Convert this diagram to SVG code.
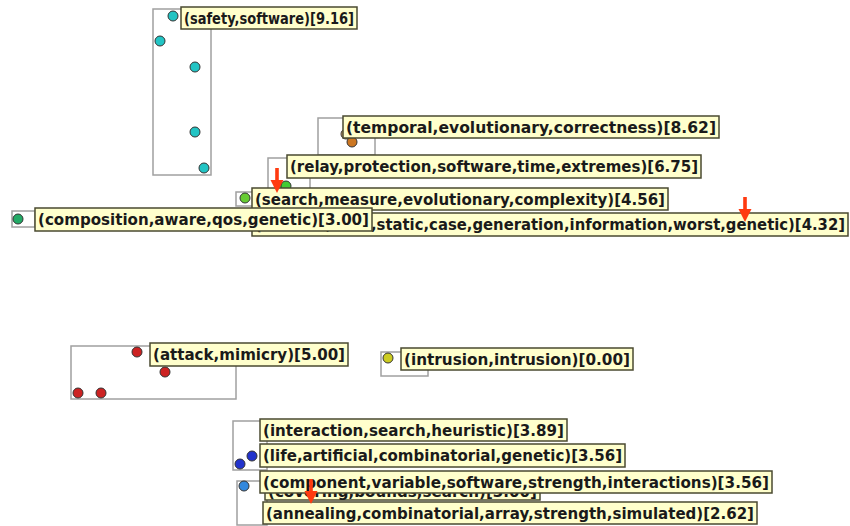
<svg xmlns="http://www.w3.org/2000/svg" width="850" height="526" viewBox="0 0 850 526">
<defs>
<style>
.frame{fill:none;stroke:#a0a0a0;stroke-width:1.5}
.dot{stroke:#333;stroke-width:1}
.lb{fill:#ffffcc;stroke:#4a4a30;stroke-width:1.5}
.tx{font-family:"DejaVu Sans",sans-serif;font-weight:bold;font-size:16.5px;fill:#1a1a1a}
.arr{fill:#ff3a10}
</style>
<g id="arrowShape"><rect x="-1.8" y="0" width="3.6" height="15" class="arr"/><polygon points="-6.5,12 6.5,12 0,25" class="arr"/></g>
</defs>
<rect width="850" height="526" fill="#fff"/>
<g id="clusters">
<g id="c-safety">
<rect class="frame" x="153" y="9" width="58" height="166"/>
<circle class="dot" cx="173" cy="16" r="5" fill="#22c4c4"/>
<circle class="dot" cx="160" cy="41" r="5" fill="#22c4c4"/>
<circle class="dot" cx="195" cy="67" r="5" fill="#22c4c4"/>
<circle class="dot" cx="195" cy="132" r="5" fill="#22c4c4"/>
<circle class="dot" cx="204" cy="168" r="5" fill="#22c4c4"/>
</g>
<g id="c-temporal">
<rect class="frame" x="318" y="118" width="57" height="37"/>
<circle class="dot" cx="346" cy="134" r="5" fill="#e8b070"/>
<circle class="dot" cx="352" cy="142" r="5" fill="#cc7722"/>
</g>
<g id="c-relay">
<rect class="frame" x="268" y="158" width="42" height="37"/>
<circle class="dot" cx="280" cy="188" r="5" fill="#44cc33"/>
<circle class="dot" cx="286" cy="186" r="5" fill="#44cc33"/>
</g>
<g id="c-search">
<rect class="frame" x="236" y="192" width="18" height="14"/>
<circle class="dot" cx="245" cy="198" r="5" fill="#66cc33"/>
</g>
<g id="c-composition">
<rect class="frame" x="12" y="211" width="23" height="16"/>
<circle class="dot" cx="18" cy="219" r="5" fill="#22aa66"/>
</g>
<g id="c-attack">
<rect class="frame" x="71" y="346" width="165" height="53"/>
<circle class="dot" cx="137" cy="352" r="5" fill="#cc2222"/>
<circle class="dot" cx="165" cy="372" r="5" fill="#cc2222"/>
<circle class="dot" cx="78" cy="393" r="5" fill="#cc2222"/>
<circle class="dot" cx="101" cy="393" r="5" fill="#cc2222"/>
</g>
<g id="c-intrusion">
<rect class="frame" x="381" y="352" width="47" height="24"/>
<circle class="dot" cx="388" cy="358" r="5" fill="#cccc22"/>
</g>
<g id="c-interaction">
<rect class="frame" x="233" y="421" width="34" height="49"/>
<circle class="dot" cx="240" cy="464" r="5" fill="#2233cc"/>
<circle class="dot" cx="252" cy="456" r="5" fill="#2233cc"/>
</g>
<g id="c-component">
<rect class="frame" x="237" y="481" width="30" height="44"/>
<circle class="dot" cx="244" cy="486" r="5" fill="#3388dd"/>
</g>
</g>
<g id="labels">
<g id="l-safety"><rect class="lb" x="181" y="7" width="176" height="22"/><text class="tx" x="184" y="24" textLength="170" lengthAdjust="spacingAndGlyphs">(safety,software)[9.16]</text></g>
<g id="l-temporal"><rect class="lb" x="343" y="116" width="376" height="22"/><text class="tx" x="346" y="133" textLength="370" lengthAdjust="spacingAndGlyphs">(temporal,evolutionary,correctness)[8.62]</text></g>
<g id="l-relay"><rect class="lb" x="287" y="155" width="414" height="23"/><text class="tx" x="290" y="172" textLength="408" lengthAdjust="spacingAndGlyphs">(relay,protection,software,time,extremes)[6.75]</text></g>
<g id="l-search"><rect class="lb" x="252" y="188" width="416" height="22"/><text class="tx" x="255" y="205" textLength="410" lengthAdjust="spacingAndGlyphs">(search,measure,evolutionary,complexity)[4.56]</text></g>
<g id="l-method"><rect class="lb" x="252" y="213" width="596" height="23"/><text class="tx" x="255" y="230" textLength="590" lengthAdjust="spacingAndGlyphs">(method,wcet,static,case,generation,information,worst,genetic)[4.32]</text></g>
<g id="l-composition"><rect class="lb" x="35" y="208" width="337" height="23"/><text class="tx" x="38" y="225" textLength="331" lengthAdjust="spacingAndGlyphs">(composition,aware,qos,genetic)[3.00]</text></g>
<g id="l-attack"><rect class="lb" x="150" y="343" width="198" height="23"/><text class="tx" x="153" y="360" textLength="192" lengthAdjust="spacingAndGlyphs">(attack,mimicry)[5.00]</text></g>
<g id="l-intrusion"><rect class="lb" x="401" y="348" width="232" height="22"/><text class="tx" x="404" y="365" textLength="226" lengthAdjust="spacingAndGlyphs">(intrusion,intrusion)[0.00]</text></g>
<g id="l-interaction"><rect class="lb" x="260" y="419" width="307" height="22"/><text class="tx" x="263" y="436" textLength="301" lengthAdjust="spacingAndGlyphs">(interaction,search,heuristic)[3.89]</text></g>
<g id="l-life"><rect class="lb" x="260" y="444" width="365" height="23"/><text class="tx" x="263" y="461" textLength="359" lengthAdjust="spacingAndGlyphs">(life,artificial,combinatorial,genetic)[3.56]</text></g>
<g id="l-covering"><rect class="lb" x="265" y="481" width="275" height="19"/><text class="tx" x="268" y="497" textLength="269" lengthAdjust="spacingAndGlyphs">(covering,bounds,search)[3.00]</text></g>
<g id="l-component"><rect class="lb" x="260" y="471" width="512" height="22"/><text class="tx" x="263" y="488" textLength="506" lengthAdjust="spacingAndGlyphs">(component,variable,software,strength,interactions)[3.56]</text></g>
<g id="l-annealing"><rect class="lb" x="263" y="502" width="494" height="22"/><text class="tx" x="266" y="519" textLength="488" lengthAdjust="spacingAndGlyphs">(annealing,combinatorial,array,strength,simulated)[2.62]</text></g>
</g>
<g id="connectors">
<use href="#arrowShape" x="277" y="168"/>
<use href="#arrowShape" x="745" y="197"/>
<use href="#arrowShape" x="311" y="479"/>
</g>
</svg>
